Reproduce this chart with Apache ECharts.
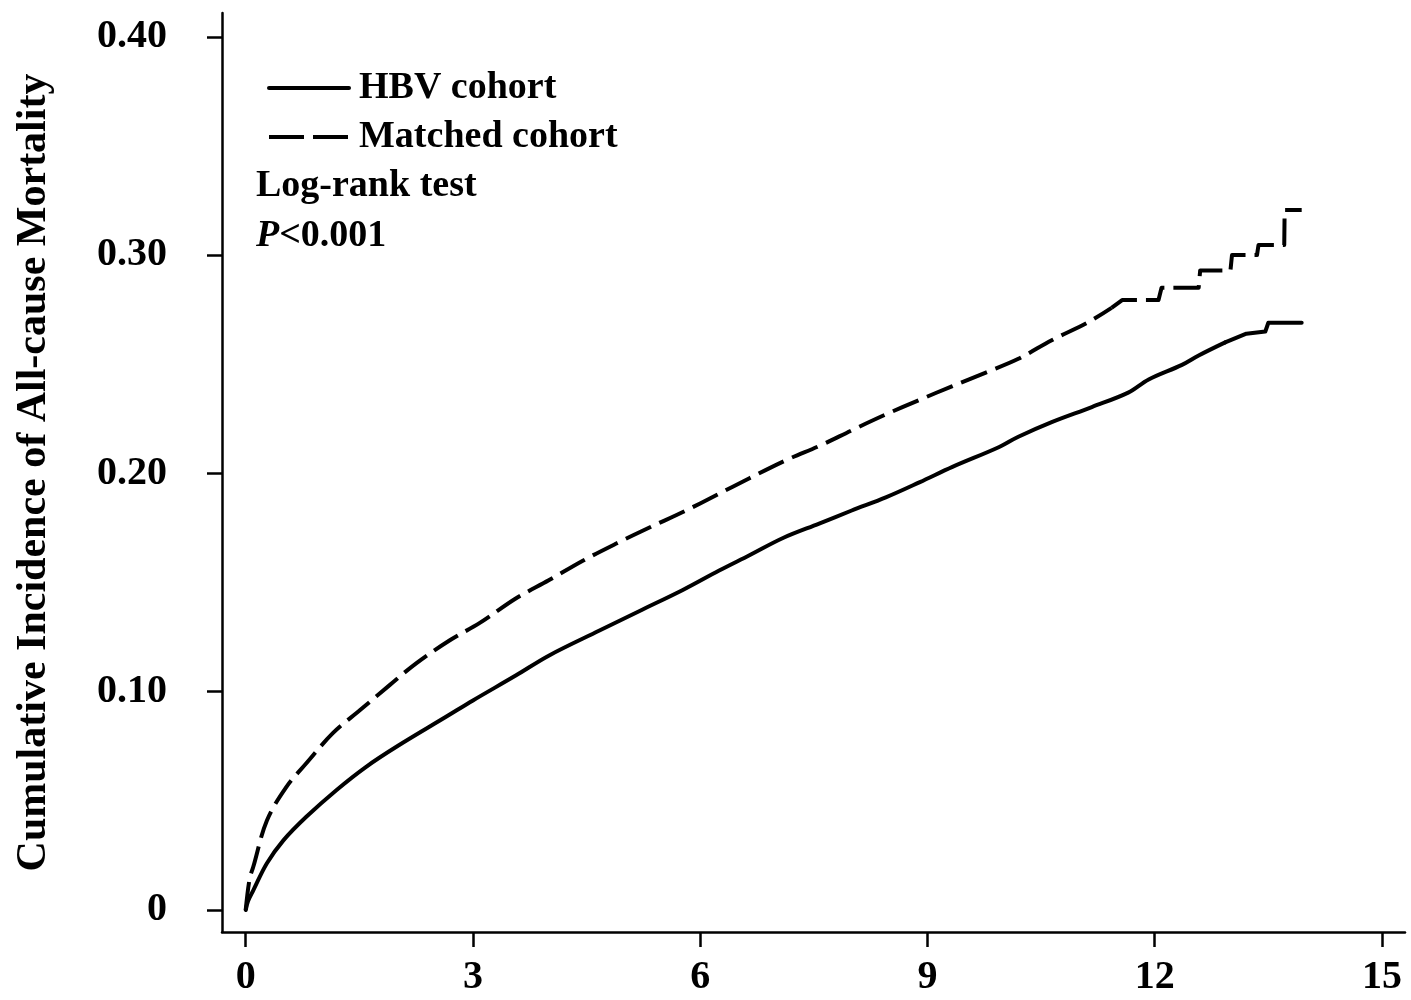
<!DOCTYPE html>
<html>
<head>
<meta charset="utf-8">
<script src="https://cdn.jsdelivr.net/npm/echarts@6/dist/echarts.min.js"></script>
<style>
html,body{margin:0;padding:0;background:#fff;}
#chart{width:1411px;height:1000px;}
</style>
</head>
<body>
<div id="chart"></div>
<script>
// Tick values
const xTicks = [0, 3, 6, 9, 12, 15];
const yTicks = [0, 0.10, 0.20, 0.30, 0.40];

// Series names
const seriesNames = ['HBV cohort', 'Matched cohort'];

// HBV cohort: [years, cumulative incidence]
const hbvData = [
  [0,0],[0.03,0.004],[0.1,0.009],[0.28,0.0214],[0.5,0.032],[0.8,0.0427],
  [1.2,0.055],[1.59,0.0656],[2.0,0.075],[2.65,0.0886],[3.0,0.096],[3.57,0.1075],
  [4.0,0.1165],[4.67,0.128],[5.2,0.137],[5.77,0.1466],[6.25,0.1555],[6.65,0.1625],
  [7.1,0.1705],[7.57,0.177],[8.0,0.183],[8.45,0.189],[8.9,0.196],[9.33,0.203],
  [9.94,0.212],[10.2,0.2168],[10.64,0.2235],[11.17,0.2304],[11.65,0.237],
  [11.92,0.243],[12.36,0.2497],[12.58,0.254],[12.93,0.260],[13.21,0.264],
  [13.46,0.265],[13.5,0.269],[13.94,0.269]
];

// Matched cohort: [years, cumulative incidence]
const matchedData = [
  [0,0],[0.05,0.014],[0.1,0.0198],[0.28,0.041],[0.54,0.0565],[0.8,0.0672],
  [1.15,0.081],[1.51,0.0916],[1.9,0.103],[2.25,0.113],[2.7,0.1237],[3.09,0.1315],
  [3.57,0.1428],[4.0,0.151],[4.45,0.160],[4.9,0.168],[5.33,0.1752],[5.8,0.1828],
  [6.21,0.190],[6.65,0.1978],[7.13,0.206],[7.6,0.213],[8.01,0.2199],[8.45,0.227],
  [8.89,0.2336],[9.33,0.240],[9.77,0.2462],[10.2,0.2525],[10.64,0.261],
  [11.13,0.2694],[11.43,0.2758],[11.57,0.2794],[12.05,0.2794],[12.09,0.285],
  [12.58,0.285],[12.6,0.293],[13.0,0.293],[13.02,0.300],[13.35,0.300],
  [13.37,0.3046],[13.71,0.3046],[13.715,0.3207],[13.94,0.3207]
];

// Where the smooth early part of each curve turns into visible late steps
const hbvStepStart = 12.93;
const matchedStepStart = 11.43;

const FONT = '"Liberation Serif", "Times New Roman", serif';

const body = (d, t) => d.filter(p => p[0] <= t);
const tail = (d, t) => d.filter(p => p[0] >= t);

const solidStyle = { color: '#000', width: 4, cap: 'round', join: 'round' };
const dashStyle = { color: '#000', width: 4, type: [28, 9], cap: 'butt', join: 'round' };

const chart = echarts.init(document.getElementById('chart'), null, {renderer: 'canvas'});
chart.setOption({
  animation: false,
  backgroundColor: '#ffffff',
  grid: { left: 222, right: 6, top: 13, bottom: 68, containLabel: false },
  title: {
    left: 256, top: 161, padding: 0,
    text: '{a|Log-rank test}\n{i|P}{a|<0.001}',
    textStyle: {
      rich: {
        a: { fontFamily: FONT, fontWeight: 'bold', fontSize: 38, lineHeight: 50, color: '#000' },
        i: { fontFamily: FONT, fontWeight: 'bold', fontStyle: 'italic', fontSize: 38, lineHeight: 50, color: '#000' }
      }
    }
  },
  legend: {
    orient: 'vertical', left: 267, top: 66, padding: 0,
    itemWidth: 80, itemHeight: 20, itemGap: 5,
    itemStyle: { opacity: 0 },
    lineStyle: { width: 4 },
    data: [
      { name: seriesNames[0] },
      { name: seriesNames[1], lineStyle: { type: [35, 9], width: 4 } }
    ],
    textStyle: { fontFamily: FONT, fontWeight: 'bold', fontSize: 38, lineHeight: 44, color: '#000', padding: [0,0,0,5] }
  },
  xAxis: {
    type: 'value', min: -0.313, max: 15.304,
    axisLine: { show: true, onZero: false, lineStyle: { color: '#000', width: 2.5 } },
    axisTick: { show: true, length: 15, customValues: xTicks, lineStyle: { color: '#000', width: 2.5 } },
    axisLabel: { customValues: xTicks, margin: 26, fontFamily: FONT, fontWeight: 'bold', fontSize: 40, color: '#000' },
    splitLine: { show: false }
  },
  yAxis: {
    type: 'value', min: -0.01008, max: 0.4109,
    name: 'Cumulative Incidence of All-cause Mortality',
    nameLocation: 'middle', nameGap: 167,
    nameTextStyle: { fontFamily: FONT, fontWeight: 'bold', fontSize: 42, color: '#000' },
    axisLine: { show: true, onZero: false, lineStyle: { color: '#000', width: 2.5 } },
    axisTick: { show: true, length: 15, customValues: yTicks, lineStyle: { color: '#000', width: 2.5 } },
    axisLabel: { customValues: yTicks, margin: 55, fontFamily: FONT, fontWeight: 'bold', fontSize: 40, color: '#000',
      formatter: v => v === 0 ? '0' : v.toFixed(2) },
    splitLine: { show: false }
  },
  series: [
    { name: seriesNames[0], type: 'line', data: body(hbvData, hbvStepStart), showSymbol: false, symbol: 'none',
      smooth: 0.35, lineStyle: solidStyle, itemStyle: { color: '#000' } },
    { name: seriesNames[0], type: 'line', data: tail(hbvData, hbvStepStart), showSymbol: false, symbol: 'none',
      lineStyle: solidStyle, itemStyle: { color: '#000' } },
    { name: seriesNames[1], type: 'line', data: body(matchedData, matchedStepStart), showSymbol: false, symbol: 'none',
      smooth: 0.35, lineStyle: dashStyle, itemStyle: { color: '#000' } },
    { name: seriesNames[1], type: 'line', data: tail(matchedData, matchedStepStart), showSymbol: false, symbol: 'none',
      lineStyle: dashStyle, itemStyle: { color: '#000' } }
  ]
});
</script>
</body>
</html>
